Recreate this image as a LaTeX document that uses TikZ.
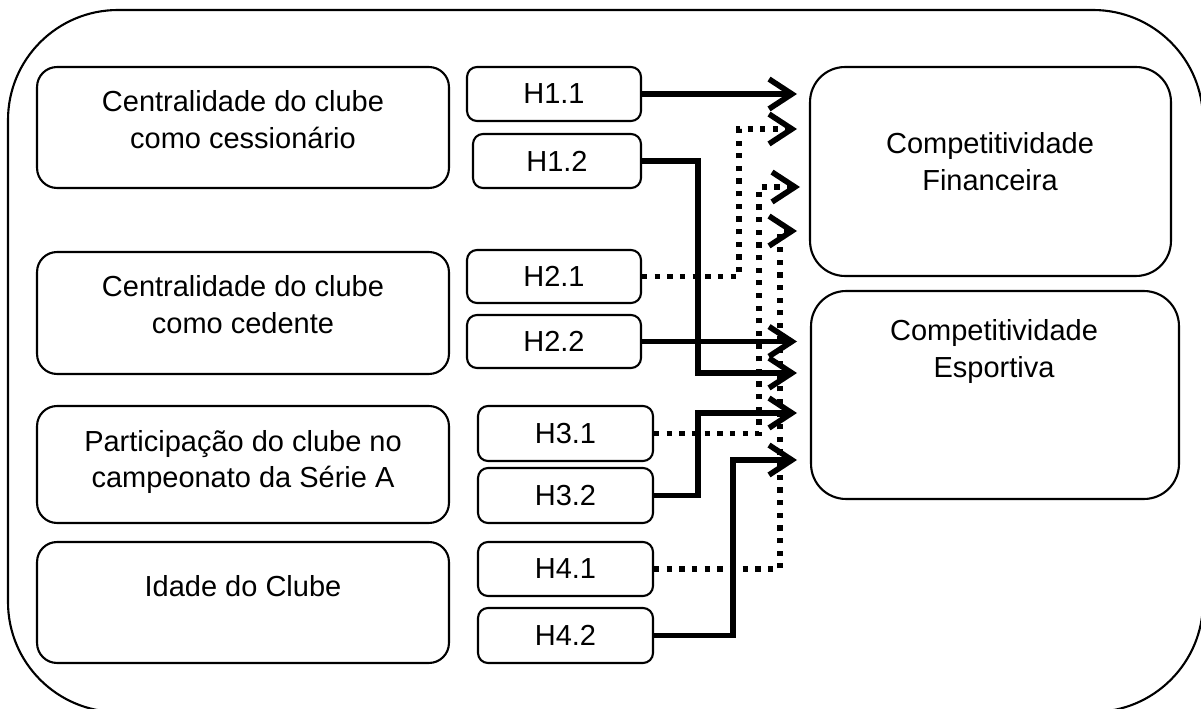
\documentclass[tikz,border=0pt]{standalone}
\usepackage{fontspec}
\setmainfont{Liberation Sans}
\usetikzlibrary{calc,arrows,arrows.meta,backgrounds}
\tikzset{
  texto/.style={align=center,inner sep=0pt,font=\fontsize{16.5}{21}\selectfont},
  bloco/.style={draw,line width=1.2pt,rounded corners=0.4cm,minimum width=8.24cm,inner sep=0pt},
  hip/.style={draw,line width=1.2pt,rounded corners=0.2cm,inner sep=0pt,texto},
  alvo/.style={draw,line width=1.2pt,rounded corners=0.7cm,inner sep=0pt},
  liga/.style={line width=3.2pt,-{Straight Barb[length=13pt,width=17pt]}},
  pontos/.style={liga,dash pattern=on 3pt off 4.2pt}
}

\begin{document}
\begin{tikzpicture}[x=0.02cm,y=-0.02cm]
            \useasboundingbox[fill=white] (0,0) rectangle (1201,709);
            \draw[line width=1.2pt,rounded corners=2.2cm] (8,10) rectangle (1203,712);

            \node[bloco,minimum height=2.42cm] (c1) at (243,127.5){};
            \node[texto] (t1) at (243,119.5){Centralidade do clube\\como cessionário};
            \node[bloco,minimum height=2.44cm] (c2) at (243,313){};
            \node[texto] (t2) at (243,305){Centralidade do clube\\como cedente};
            \node[bloco,minimum height=2.34cm] (c3) at (243,464.5){};
            \node[texto] (t3) at (243,462){Participação do clube no\\campeonato da Série A};
            \node[bloco,minimum height=2.42cm] (c4) at (243,602.5){};
            \node[texto] (t4) at (243,586){Idade do Clube};

            \node[hip,minimum width=3.48cm,minimum height=1.08cm] (h11) at (554,94){H1.1};
            \node[hip,minimum width=3.36cm,minimum height=1.08cm] (h12) at (557,161){H1.2};
            \node[hip,minimum width=3.48cm,minimum height=1.06cm] (h21) at (554,276.5){H2.1};
            \node[hip,minimum width=3.48cm,minimum height=1.06cm] (h22) at (554,341.5){H2.2};
            \node[hip,minimum width=3.5cm,minimum height=1.1cm] (h31) at (565.5,433.5){H3.1};
            \node[hip,minimum width=3.5cm,minimum height=1.1cm] (h32) at (565.5,495.5){H3.2};
            \node[hip,minimum width=3.5cm,minimum height=1.08cm] (h41) at (565.5,569){H4.1};
            \node[hip,minimum width=3.5cm,minimum height=1.1cm] (h42) at (565.5,635.5){H4.2};

            \node[alvo,minimum width=7.22cm,minimum height=4.18cm] (fin) at (990.5,171.5){};
            \node[texto] (tfin) at (990,161.5){Competitividade\\Financeira};
            \node[alvo,minimum width=7.36cm,minimum height=4.16cm] (esp) at (995,395){};
            \node[texto] (tesp) at (994,351.5){Competitividade\\Esportiva};

            \coordinate (f1) at (797,94);
            \coordinate (f2) at (797,129);
            \coordinate (f3) at (800,187);
            \coordinate (f4) at (797,231);
            \coordinate (e1) at (797,341.5);
            \coordinate (e2) at (797,373);
            \coordinate (e3) at (797,413);
            \coordinate (e4) at (797,460);

            \draw[liga] (h11.east) -- (f1);
            \draw[liga] (h12.east) -- ++(56,0) |- (e2);
            \draw[pontos] (h21.east) -- ++(97,0) |- (f2);
            \draw[liga] (h22.east) -- (e1);
            \draw[pontos] (h31.east) -- ++(105,0) |- (f3);
            \draw[liga] (h32.east) -- ++(44,0) |- (e3);
            \draw[pontos] (h41.east) -- ++(126,0) |- (f4);
            \draw[liga] (h42.east) -- ++(79,0) |- (e4);
\end{tikzpicture}
\end{document}
